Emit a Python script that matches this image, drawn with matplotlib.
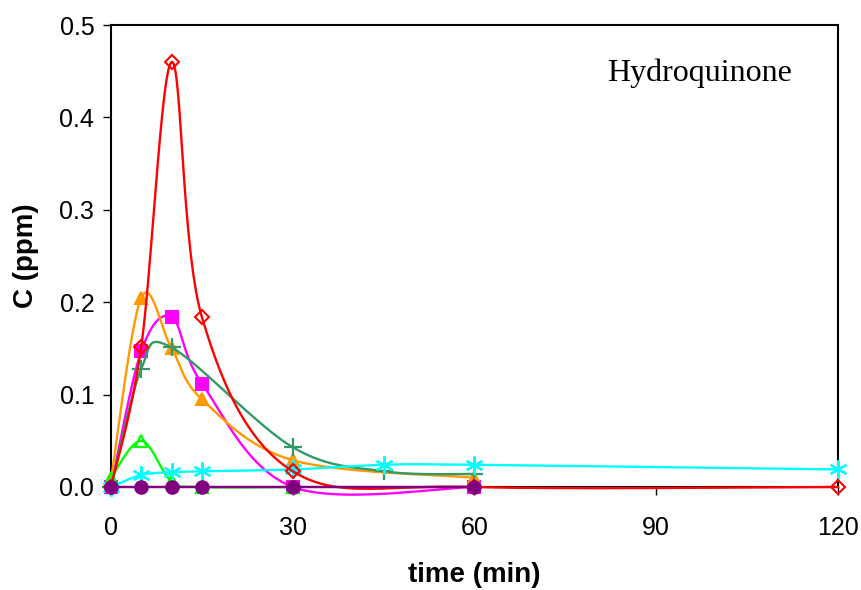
import matplotlib.pyplot as plt
import numpy as np

# ===================== data =====================
t_red = [0, 5, 10, 15, 30, 60, 120]
c_red = [0.0, 0.152, 0.460, 0.184, 0.017, 0.0, 0.0]

t_orange = [0, 5, 10, 15, 30, 60]
c_orange = [0.008, 0.205, 0.150, 0.095, 0.029, 0.010]

t_magenta = [0, 5, 10, 15, 30, 60]
c_magenta = [0.0, 0.147, 0.184, 0.112, 0.0, 0.0]

t_green = [0, 5, 10, 30, 45, 60]
c_green = [0.0, 0.128, 0.151, 0.043, 0.017, 0.014]

t_lime = [0, 5, 10, 15, 30]
c_lime = [0.010, 0.050, 0.006, 0.0, 0.0]

t_cyan = [0, 5, 10, 15, 30, 45, 60, 120]
c_cyan = [0.0, 0.013, 0.016, 0.017, 0.019, 0.024, 0.024, 0.019]

t_purple = [0, 5, 10, 15, 30, 60]
c_purple = [0.0, 0.0, 0.0, 0.0, 0.0, 0.0]


# ===================== excel-like smoothing =====================
def smooth(x, y, n=30):
    """bezier smoothing like excel's smoothed line (tension 1/6)"""
    p = np.column_stack([x, y]).astype(float)
    m = len(p)
    out = [p[0]]
    s = np.linspace(0, 1, n)[1:, None]
    for i in range(m - 1):
        p0 = p[max(i - 1, 0)]
        p1, p2 = p[i], p[i + 1]
        p3 = p[min(i + 2, m - 1)]
        c1 = p1 + (p2 - p0) / 6
        c2 = p2 - (p3 - p1) / 6
        seg = (1 - s) ** 3 * p1 + 3 * (1 - s) ** 2 * s * c1 + 3 * (1 - s) * s**2 * c2 + s**3 * p2
        out.extend(seg)
    out = np.array(out)
    return out[:, 0], out[:, 1]


def series(ax, x, y, color, marker, ms, mfc, mew=1.5, z=2):
    sx, sy = smooth(x, y)
    ax.plot(sx, sy, "-", color=color, lw=1.7, zorder=z)
    ax.plot(x, y, ls="none", marker=marker, ms=ms, mfc=mfc, mec=color, mew=mew, zorder=z + 0.5)


# ===================== plot =====================
plt.rcParams["font.family"] = ["Liberation Sans", "DejaVu Sans"]
fig = plt.figure(figsize=(8.61, 5.9), dpi=100)
ax = fig.add_axes([0.1289, 0.1746, 0.8444, 0.783])

series(ax, t_magenta, c_magenta, "#FF00FF", "s", 8, "#FF00FF", z=2)
series(ax, t_orange, c_orange, "#FF9900", "^", 9, "#FF9900", z=3)
series(ax, t_green, c_green, "#339966", "+", 13, "none", mew=1.6, z=4)
series(ax, t_lime, c_lime, "#00FF00", "^", 9, "none", mew=1.6, z=5)
series(ax, t_cyan, c_cyan, "#00FFFF", (6, 2, 0), 13, "none", mew=1.6, z=6)
series(ax, t_red, c_red, "#FF0000", "D", 7, "none", mew=1.5, z=7)
series(ax, t_purple, c_purple, "#800080", "o", 9, "#800080", z=8)

ax.set_xlim(0, 120)
ax.set_ylim(0, 0.5)
ax.set_xticks([0, 30, 60, 90, 120])
ax.set_yticks(np.arange(0, 0.51, 0.1))
ax.yaxis.set_major_formatter(plt.FormatStrFormatter("%.1f"))
ax.tick_params(direction="out", length=6, width=1, labelsize=18, pad=6)
ax.tick_params(axis="x", pad=15)
for sp in ax.spines.values():
    sp.set_linewidth(1.5)
    sp.set_clip_on(False)
for ln in ax.lines:
    ln.set_clip_on(False)

ax.set_xlabel("time (min)", fontsize=20, fontweight="bold", labelpad=16)
ax.set_ylabel("C (ppm)", fontsize=20, fontweight="bold", labelpad=15)
ax.text(0.937, 0.895, "Hydroquinone", transform=ax.transAxes, ha="right", va="center",
        fontsize=23, family=["Liberation Serif", "DejaVu Serif"])

fig.savefig("out.png", dpi=100)
